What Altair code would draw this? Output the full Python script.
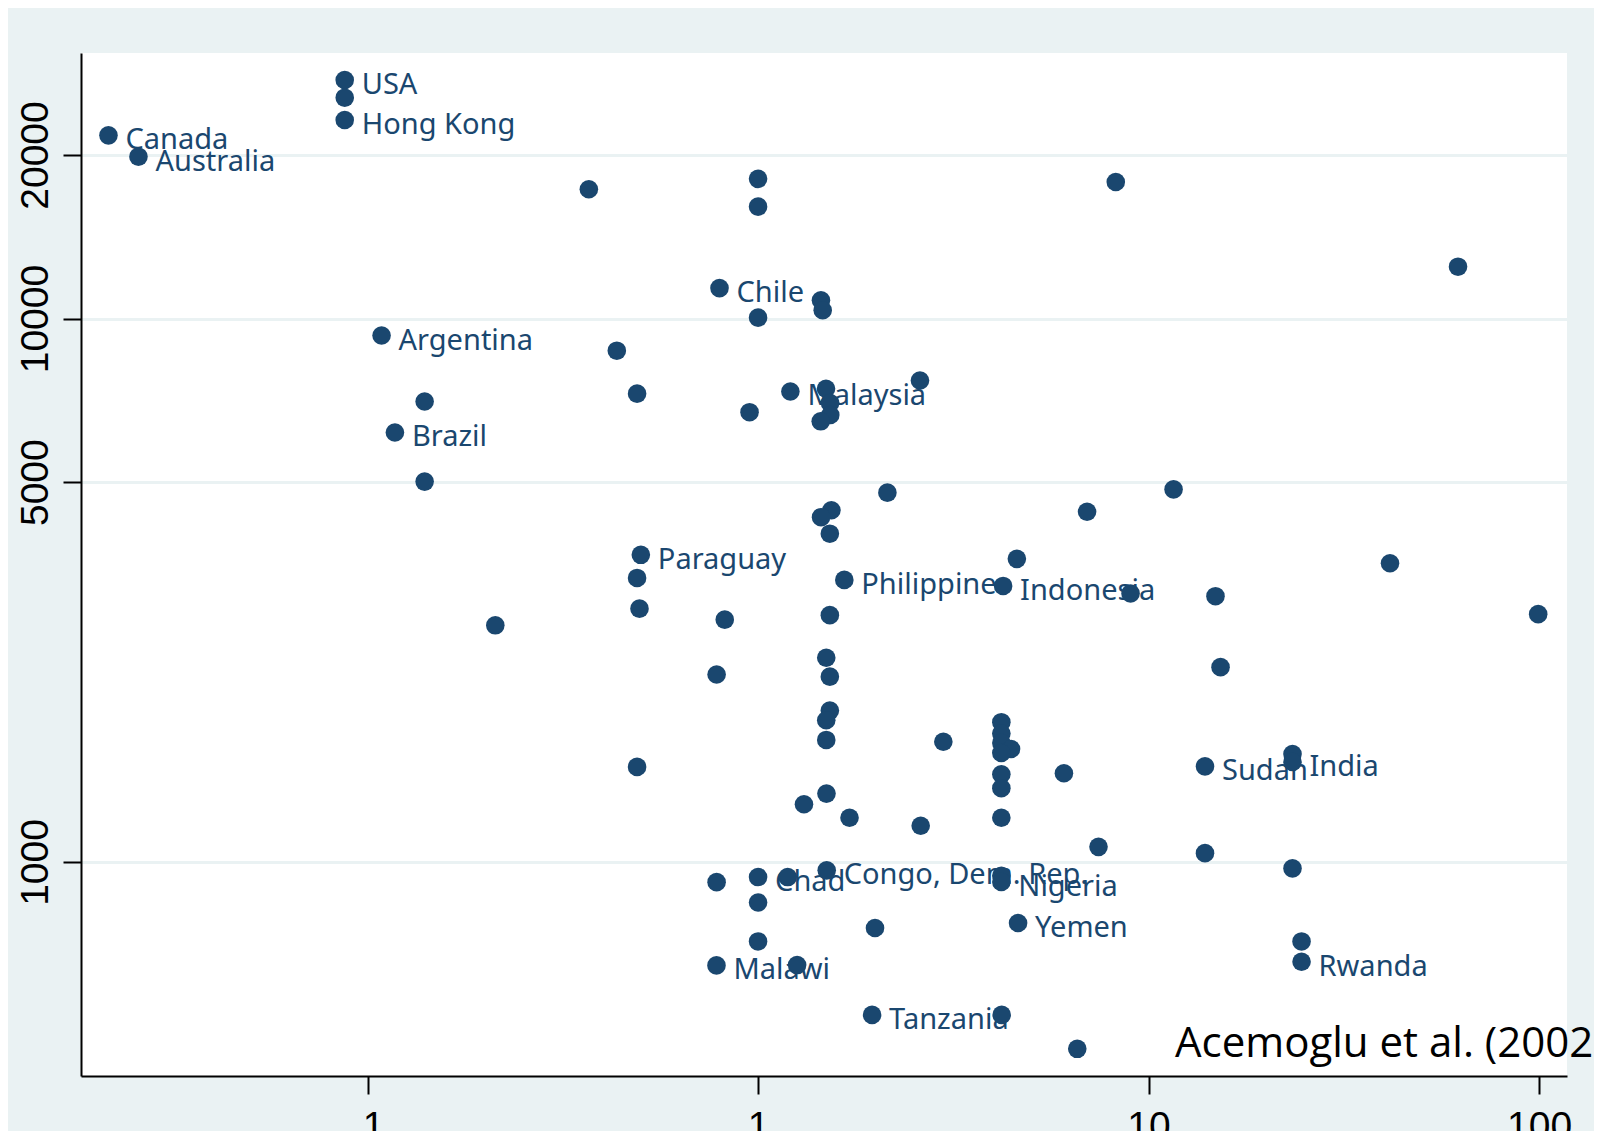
import altair as alt
import pandas as pd

# ---- data (log population density 1500 vs GDP per capita) ----
country = [
    "Canada", "Australia", "USA", "", "Hong Kong", "Argentina", "", "Brazil", "", "",
    "", "", "", "Chile", "", "", "", "", "", "Malaysia",
    "", "", "", "", "", "", "", "", "", "",
    "", "", "", "", "Paraguay", "", "", "", "Philippine", "Indonesia",
    "", "", "", "", "", "", "", "", "", "",
    "", "", "", "", "", "", "", "", "", "",
    "", "", "", "Sudan", "", "India", "", "", "", "",
    "", "", "", "", "", "Chad", "", "Congo, Dem. Rep.", "", "Nigeria",
    "", "", "Malawi", "", "", "Yemen", "", "Rwanda", "Tanzania", "",
    "",
]
density = [
    0.0217, 0.0259, 0.0874, 0.0874, 0.0874, 0.1086, 0.140, 0.1175, 0.140, 0.2124,
    0.3687, 1.0, 1.0, 0.7967, 1.449, 1.464, 1.0, 0.4348, 0.490, 1.210,
    1.493, 1.529, 1.531, 1.447, 0.9511, 2.598, 8.243, 62.02, 2.144, 1.541,
    1.450, 1.527, 6.959, 11.59, 0.501, 0.490, 0.497, 0.8217, 1.663, 4.242,
    4.600, 8.993, 14.84, 99.5, 41.53, 1.527, 1.495, 1.527, 0.7832, 15.29,
    1.527, 1.495, 1.495, 2.982, 4.198, 4.198, 4.198, 4.445, 4.198, 4.198,
    4.198, 4.198, 6.072, 13.95, 23.37, 23.37, 0.490, 1.497, 1.311, 1.715,
    2.609, 7.445, 13.95, 23.37, 0.7832, 1.0, 1.191, 1.499, 4.198, 4.198,
    1.0, 1.0, 0.7826, 1.259, 1.993, 4.633, 24.65, 24.65, 1.959, 4.206,
    6.569,
]
gdp = [
    21740, 19860, 27480, 25500, 23200, 9308, 7036, 6172, 5012, 2726,
    17300, 18080, 16070, 11380, 10810, 10360, 10040, 8728, 7275, 7343,
    7427, 6994, 6647, 6471, 6726, 7692, 17840, 12460, 4783, 4438,
    4310, 4019, 4410, 4849, 3675, 3332, 2925, 2792, 3304, 3221,
    3613, 3120, 3084, 2858, 3546, 2846, 2376, 2193, 2213, 2283,
    1899, 1823, 1677, 1664, 1808, 1723, 1656, 1614, 1587, 1450,
    1367, 1206, 1456, 1499, 1580, 1528, 1496, 1336, 1277, 1206,
    1166, 1066, 1038, 973, 918, 938, 938, 965, 943, 919,
    842, 714, 645, 646, 756, 772, 714, 655, 523, 523,
    453,
]

x_ticks = [0.1, 1, 10, 100]
y_ticks = [1000, 5000, 10000, 20000]

note_text = ["Acemoglu et al. (2002)"]
note_x = [11.69]
note_y = [437.6]

NAVY = "#1a476f"
BG = "#eaf2f3"

df = pd.DataFrame({"country": country, "density": density, "gdp": gdp})
notes = pd.DataFrame({"text": note_text, "x": note_x, "y": note_y})

xscale = alt.Scale(type="log", domain=[0.018456, 117.93], nice=False, zero=False)
yscale = alt.Scale(type="log", domain=[403.7, 30817], nice=False, zero=False)

xaxis = alt.Axis(
    values=x_ticks, title=None, grid=False,
    labelExpr="datum.value < 1 ? '.1' : format(datum.value, 'd')",
    labelPadding=13, labelBaseline="top", labelAlign="center",
)
yaxis = alt.Axis(
    values=y_ticks, title=None, grid=True, format="d",
    labelAngle=270, labelAlign="center", labelBaseline="bottom", labelPadding=8,
)

base = alt.Chart(df)

labels = base.transform_filter("datum.country != ''").mark_text(
    align="left", baseline="alphabetic", dx=17, dy=14,
    font="Noto Sans", fontSize=29, color=NAVY,
).encode(
    x=alt.X("density:Q", scale=xscale, axis=xaxis),
    y=alt.Y("gdp:Q", scale=yscale, axis=yaxis),
    text="country:N",
)

points = base.mark_circle(size=346, color=NAVY, opacity=1).encode(
    x=alt.X("density:Q", scale=xscale, axis=xaxis),
    y=alt.Y("gdp:Q", scale=yscale, axis=yaxis),
)

note = alt.Chart(notes).mark_text(
    align="left", baseline="alphabetic", font="Open Sans", fontSize=42, color="black",
).encode(
    x=alt.X("x:Q", scale=xscale, axis=xaxis),
    y=alt.Y("y:Q", scale=yscale, axis=yaxis),
    text="text:N",
)

chart = alt.layer(labels, points, note).properties(
    width=1486,
    height=1023,
    padding={"left": 73, "top": 45, "right": 27, "bottom": 55},
    autosize=alt.AutoSizeParams(type="none"),
    background=BG,
).configure_view(
    fill="white", strokeWidth=0,
).configure_axis(
    domainColor="black", domainWidth=2,
    tickColor="black", tickWidth=2, tickSize=18,
    gridColor=BG, gridWidth=3,
    labelFont="Liberation Sans", labelFontSize=39, labelColor="black",
)

chart.save("out.html", embed_options={"renderer": "svg", "actions": False})
